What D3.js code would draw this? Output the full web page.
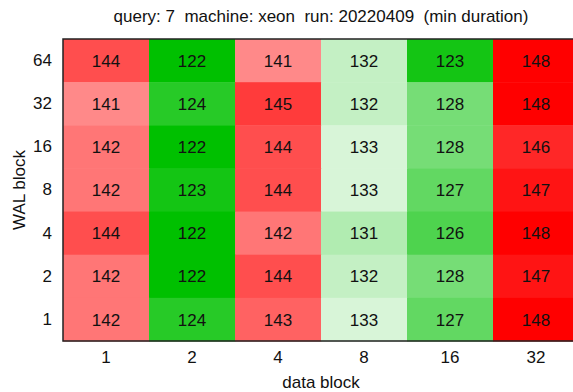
<!DOCTYPE html>
<html>
<head>
<meta charset="utf-8">
<script src="https://cdn.jsdelivr.net/npm/d3@7"></script>
<style>
  html, body { margin: 0; padding: 0; background: #fff; }
  svg { display: block; font-family: "Liberation Sans", Arial, sans-serif; }
  text { white-space: pre; }
</style>
</head>
<body>
<svg id="chart" width="573" height="392"></svg>
<script>
// Minimum query duration per (WAL block, data block) combination
const dataBlocks = ["1", "2", "4", "8", "16", "32"];
const walBlocks = ["64", "32", "16", "8", "4", "2", "1"];
const row64 = [144, 122, 141, 132, 123, 148];
const row32 = [141, 124, 145, 132, 128, 148];
const row16 = [142, 122, 144, 133, 128, 146];
const row8  = [142, 123, 144, 133, 127, 147];
const row4  = [144, 122, 142, 131, 126, 148];
const row2  = [142, 122, 144, 132, 128, 147];
const row1  = [142, 124, 143, 133, 127, 148];
const rows = [row64, row32, row16, row8, row4, row2, row1];
const title = "query: 7  machine: xeon  run: 20220409  (min duration)";

const cells = [];
walBlocks.forEach((w, i) => {
  dataBlocks.forEach((d, j) => cells.push({ wal: w, data: d, value: rows[i][j] }));
});

const svg = d3.select("#chart");
const plotLeft = 63, plotRight = 579, plotTop = 39, plotBottom = 341;
const fs = 17;

const x = d3.scaleBand().domain(dataBlocks).range([plotLeft, plotRight]);
const y = d3.scaleBand().domain(walBlocks).range([plotTop, plotBottom]);
const color = d3.scaleLinear()
  .domain([122, 135, 148])
  .range(["#00c000", "#ffffff", "#ff0000"])
  .clamp(true);

// Cells
svg.append("g").selectAll("rect").data(cells).join("rect")
  .attr("x", d => x(d.data))
  .attr("y", d => y(d.wal))
  .attr("width", x.bandwidth() + 0.5)
  .attr("height", y.bandwidth() + 0.5)
  .attr("fill", d => color(d.value));

// Cell values
svg.append("g").selectAll("text").data(cells).join("text")
  .attr("x", d => x(d.data) + x.bandwidth() / 2)
  .attr("y", d => y(d.wal) + y.bandwidth() / 2)
  .attr("dy", "0.36em")
  .attr("text-anchor", "middle")
  .attr("font-size", fs)
  .attr("fill", "#111")
  .text(d => d.value);

// Border
svg.append("rect")
  .attr("x", plotLeft).attr("y", plotTop)
  .attr("width", plotRight - plotLeft).attr("height", plotBottom - plotTop)
  .attr("fill", "none").attr("stroke", "#222").attr("stroke-width", 1.5);

// Axes (labels only, no tick marks)
const xAxis = svg.append("g")
  .attr("transform", `translate(0,${plotBottom})`)
  .call(d3.axisBottom(x).tickSize(0).tickPadding(10));
xAxis.select(".domain").remove();
xAxis.selectAll("text").attr("font-size", fs).attr("fill", "#111")
  .attr("font-family", "Liberation Sans, Arial, sans-serif");

const yAxis = svg.append("g")
  .attr("transform", `translate(${plotLeft},0)`)
  .call(d3.axisLeft(y).tickSize(0).tickPadding(11));
yAxis.select(".domain").remove();
yAxis.selectAll("text").attr("font-size", fs).attr("fill", "#111")
  .attr("font-family", "Liberation Sans, Arial, sans-serif");

// Titles
svg.append("text")
  .attr("x", (plotLeft + plotRight) / 2).attr("y", 22)
  .attr("text-anchor", "middle").attr("font-size", fs).attr("fill", "#111")
  .text(title);

svg.append("text")
  .attr("x", (plotLeft + plotRight) / 2).attr("y", 388)
  .attr("text-anchor", "middle").attr("font-size", fs).attr("fill", "#111")
  .text("data block");

svg.append("text")
  .attr("transform", `translate(25,${(plotTop + plotBottom) / 2}) rotate(-90)`)
  .attr("text-anchor", "middle").attr("font-size", fs).attr("fill", "#111")
  .text("WAL block");
</script>
</body>
</html>
